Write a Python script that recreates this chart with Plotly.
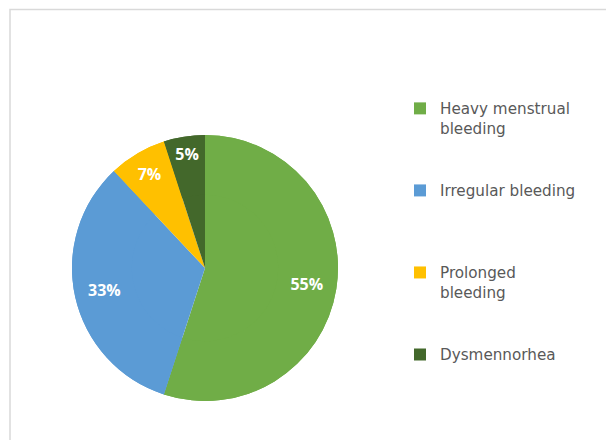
import plotly.graph_objects as go

categories = ["Heavy menstrual bleeding", "Irregular bleeding", "Prolonged bleeding", "Dysmennorhea"]
values = [55, 33, 7, 5]
colors = ["#70AD47", "#5B9BD5", "#FFC000", "#43682B"]

# legend labels wrapped as in the reference, padded so every entry takes the same slot
wrapped = {
    "Heavy menstrual bleeding": "Heavy menstrual<br>bleeding",
    "Prolonged bleeding": "Prolonged<br>bleeding",
}
def legend_label(c):
    t = wrapped.get(c, c)
    n = t.count("<br>") + 1
    return t + "<br>&nbsp;" * (4 - n)

labels = [legend_label(c) for c in categories]

W, H = 614, 440
OX, OY = 8, 8  # page offset of the figure
pie_dom = dict(x=[(72 - OX) / W, (338 - OX) / W], y=[1 - (401 - OY) / H, 1 - (135 - OY) / H])

# full pie underneath (no text)
base = go.Pie(
    labels=labels,
    values=values,
    sort=False,
    direction="clockwise",
    rotation=0,
    marker=dict(colors=colors, line=dict(color="white", width=0)),
    textinfo="none",
    hoverinfo="skip",
    showlegend=False,
    domain=pie_dom,
)
# ring on top carrying the percentage labels
ring = go.Pie(
    labels=labels,
    values=values,
    sort=False,
    direction="clockwise",
    rotation=0,
    hole=0.55,
    marker=dict(colors=colors, line=dict(color="white", width=0)),
    texttemplate="%{value}%",
    textposition="inside",
    insidetextorientation="horizontal",
    insidetextfont=dict(color="white", size=16, family="Open Sans", weight="bold"),
    hovertemplate="%{label}: %{value}%<extra></extra>",
    domain=pie_dom,
)

fig = go.Figure([base, ring])

fig.update_layout(
    width=W,
    height=H,
    margin=dict(l=0, r=0, t=0, b=0),
    paper_bgcolor="white",
    plot_bgcolor="white",
    font=dict(family="Open Sans", color="#595959"),
    showlegend=True,
    legend=dict(
        x=(400 - OX) / W,
        xanchor="left",
        y=1 - 84 / H,
        yanchor="top",
        valign="top",
        itemwidth=30,
        font=dict(size=15.2, color="#595959", family="DejaVu Sans"),
        bgcolor="rgba(0,0,0,0)",
        tracegroupgap=0,
    ),
    shapes=[
        dict(
            type="rect",
            xref="paper",
            yref="paper",
            x0=(10 - OX) / W,
            x1=(612.5 - OX) / W,
            y0=-0.1,
            y1=1 - (9.5 - OY) / H,
            line=dict(color="#D9D9D9", width=1.5),
            fillcolor="rgba(0,0,0,0)",
            layer="below",
        )
    ],
)

fig.write_html("out.html")
